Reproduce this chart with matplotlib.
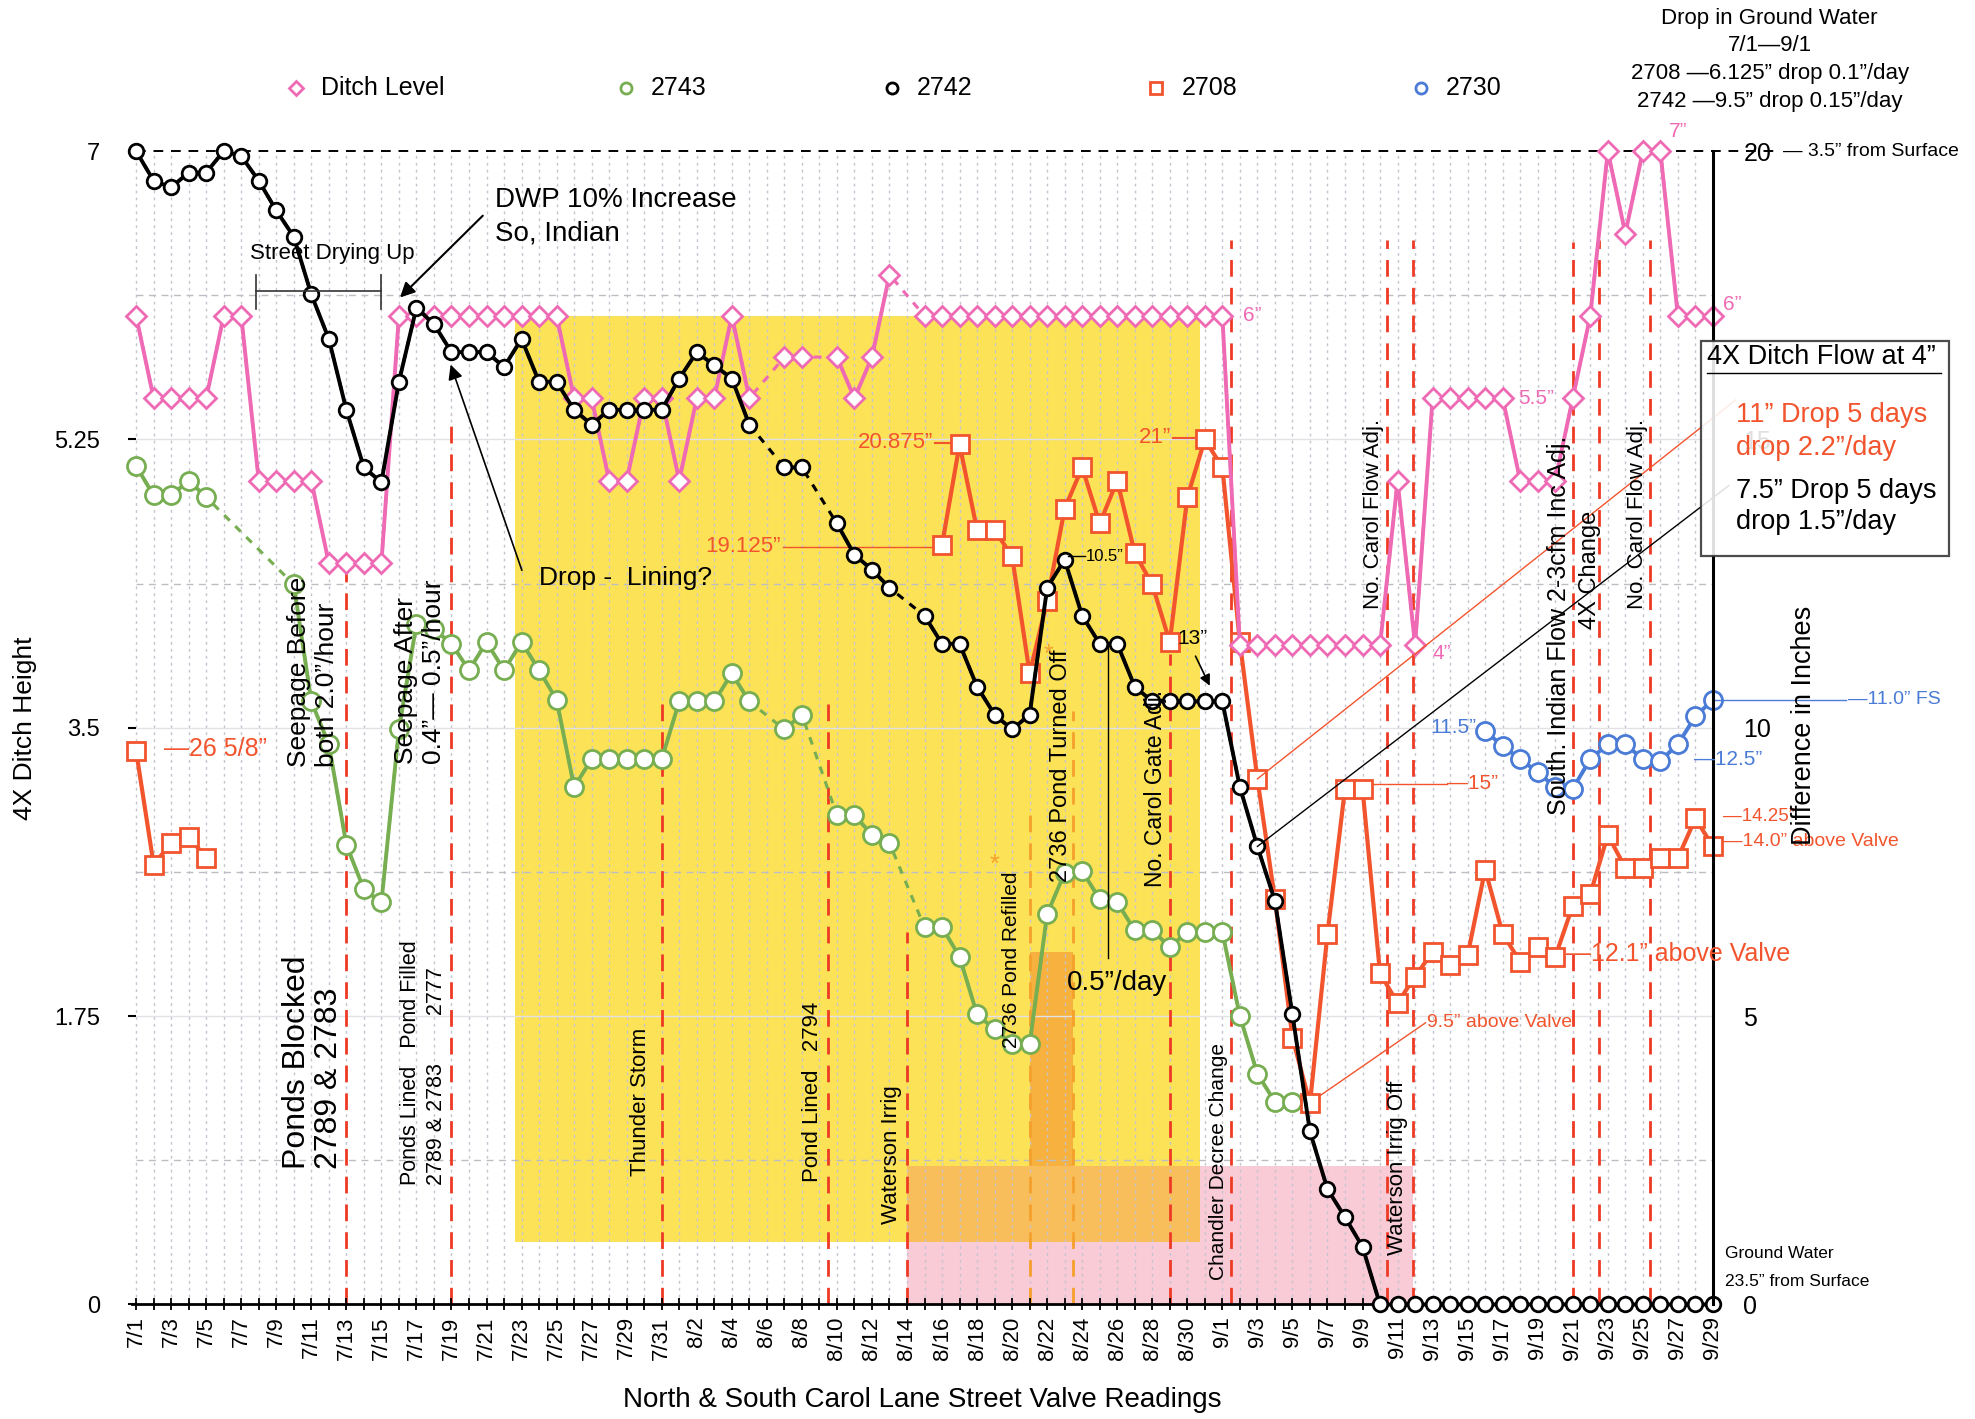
import numpy as np
import matplotlib
matplotlib.use('Agg')
import matplotlib.pyplot as plt
from matplotlib.lines import Line2D
from matplotlib.patches import Rectangle
from matplotlib import font_manager

plt.rcParams['font.family'] = ['Liberation Sans', 'DejaVu Sans']
names = {f.name for f in font_manager.fontManager.ttflist}
NARROW = 'Liberation Sans Narrow' if 'Liberation Sans Narrow' in names else 'Liberation Sans'

nan = np.nan
dates = [f'7/{i}' for i in range(1, 32)] + [f'8/{i}' for i in range(1, 32)] + [f'9/{i}' for i in range(1, 30)]

ditch_level = ([6.0, 5.5, 5.5, 5.5, 5.5, 6.0, 6.0, 5.0, 5.0, 5.0, 5.0, 4.5, 4.5, 4.5, 4.5]
               + [6.0] * 10 + [5.5, 5.5, 5.0, 5.0, 5.5, 5.5]
               + [5.0, 5.5, 5.5, 6.0, 5.5, nan, 5.75, 5.75, nan, 5.75, 5.5, 5.75, 6.25, nan]
               + [6.0] * 18 + [4.0] * 9 + [5.0, 4.0] + [5.5] * 5 + [5.0] * 3
               + [5.5, 6.0, 7.0, 6.5, 7.0, 7.0, 6.0, 6.0, 6.0])

s2742 = ([7.0, 6.82, 6.78, 6.87, 6.87, 7.0, 6.97, 6.82, 6.64, 6.48,
          6.13, 5.86, 5.43, 5.08, 4.99, 5.60, 6.05, 5.95, 5.78, 5.78,
          5.78, 5.69, 5.86, 5.60, 5.60, 5.43, 5.34, 5.43, 5.43, 5.43, 5.43,
          5.62, 5.78, 5.70, 5.62, 5.34, nan, 5.08, 5.08, nan, 4.74, 4.55, 4.46, 4.35, nan,
          4.18, 4.01, 4.01, 3.75, 3.58, 3.49, 3.58, 4.35, 4.52, 4.18, 4.01, 4.01, 3.75,
          3.66, 3.66, 3.66, 3.66, 3.66,
          3.14, 2.78, 2.45, 1.76, 1.05, 0.70, 0.53, 0.35] + [0.0] * 20)

s2743 = ([5.09, 4.91, 4.91, 5.0, 4.90, nan, nan, nan, nan,
          4.37, 3.66, 3.40, 2.79, 2.52, 2.44,
          3.49, 4.13, 4.10, 4.01, 3.85, 4.02, 3.85, 4.02, 3.85, 3.67,
          3.14, 3.31, 3.31, 3.31, 3.31, 3.31,
          3.66, 3.66, 3.66, 3.83, 3.66, nan, 3.49, 3.58, nan, 2.97, 2.97, 2.85, 2.80, nan,
          2.29, 2.29, 2.11, 1.76, 1.67, 1.58, 1.58, 2.37, 2.62, 2.63, 2.46, 2.44, 2.27,
          2.27, 2.17, 2.26, 2.26, 2.26,
          1.75, 1.40, 1.23, 1.23] + [nan] * 24)

s2708 = ([3.36, 2.67, 2.80, 2.84, 2.71] + [nan] * 41
         + [4.61, 5.22, 4.70, 4.70, 4.54, 3.83, 4.27, 4.83, 5.08, 4.74, 5.00, 4.56, 4.37,
            4.02, 4.90, 5.25, 5.08,
            4.02, 3.19, 2.46, 1.62, 1.22, 2.25, 3.13, 3.13, 2.01, 1.83, 1.99, 2.14, 2.06,
            2.12, 2.64, 2.25, 2.08, 2.17, 2.11, 2.42, 2.49, 2.85, 2.65, 2.65, 2.71, 2.71,
            2.95, 2.78])

s2730 = [nan] * 77 + [3.48, 3.39, 3.31, 3.23, 3.14, 3.13, 3.31, 3.40, 3.40, 3.31, 3.30, 3.40, 3.57, 3.67]

left_ticks = [0, 1.75, 3.5, 5.25, 7]
left_tick_labels = ['0', '1.75', '3.5', '5.25', '7']
right_ticks = [0, 5, 10, 15, 20]

PINK = '#EF6AB4'
GREEN = '#78AE52'
BLACK = '#000000'
RED = '#F2542D'
BLUE = '#4A7BD6'
EVRED = '#EE3A24'
EVORANGE = '#F5A02C'

fig = plt.figure(figsize=(19.75, 14.19), dpi=100)
ax = fig.add_axes([0.0667, 0.0807, 0.8006, 0.8128])
ax.set_xlim(-0.25, 90)
ax.set_ylim(0, 7)
for s in ['left', 'top', 'right']:
    ax.spines[s].set_visible(False)
ax.spines['bottom'].set_linewidth(2)

# shading
ax.add_patch(Rectangle((21.6, 0.38), 60.7 - 21.6, 6.0 - 0.38, color='#FCE257', zorder=0.2, lw=0))
ax.add_patch(Rectangle((44, 0), 72.9 - 44, 0.84, color='#F9CBD7', zorder=0.3, lw=0))
ax.add_patch(Rectangle((44, 0.38), 60.7 - 44, 0.84 - 0.38, color='#F8BE5C', zorder=0.35, lw=0))
ax.add_patch(Rectangle((51, 0.84), 53.45 - 51, 2.14 - 0.84, color='#F6B13F', zorder=0.35, lw=0))

# grid
ax.vlines(np.arange(0, 91), 0, 7, colors='#C4C4D0', linestyles=(0, (2, 3)), lw=1, zorder=0.6)
ax.hlines([0.875, 2.625, 4.375, 6.125], 0, 90, colors='#BDBDC4', linestyles=(0, (5, 4)), lw=1, zorder=0.6)
ax.hlines([1.75, 3.5, 5.25], 0, 90, colors='#E2E2E6', lw=1, zorder=0.6)
ax.plot([0, 93.6], [7, 7], color='k', ls=(0, (5, 4)), lw=1.4, zorder=1, clip_on=False)
# right axis line
ax.plot([90, 90], [0, 7], color='k', lw=2.2, zorder=7.5, clip_on=False)

# event lines
events = [(12, 4.5, EVRED), (18, 5.4, EVRED), (30, 3.70, EVRED), (39.5, 3.70, EVRED),
          (44, 2.26, EVRED), (51, 2.97, EVORANGE), (53.5, 3.6, EVORANGE), (59, 3.95, EVRED),
          (62.5, 6.46, EVRED), (71.4, 6.46, EVRED), (72.9, 6.46, EVRED), (82, 6.45, EVRED),
          (83.5, 6.46, EVRED), (86.4, 6.46, EVRED)]
for xe, top, c in events:
    ax.plot([xe, xe], [0, top], color=c, ls=(0, (6, 4)), lw=2, zorder=1.2)

x = np.arange(91)


def draw(vals, color, marker, ms, lw, z, connect=True, mew=2):
    y = np.array(vals, float)
    ok = ~np.isnan(y)
    if connect:
        ax.plot(x[ok], y[ok], color=color, lw=lw * 0.8, ls=(0, (2.5, 2.5)), zorder=z, clip_on=False)
    ax.plot(x, y, color=color, lw=lw, zorder=z + 0.1, clip_on=False)
    ax.plot(x[ok], y[ok], ls='none', marker=marker, ms=ms, mfc='white', mec=color, mew=mew,
            zorder=z + 0.2, clip_on=False)


draw(s2743, GREEN, 'o', 13, 2.8, 3)
draw(s2708, RED, 's', 13.5, 3.0, 4, connect=False)
draw(ditch_level, PINK, 'D', 10, 2.8, 5)
draw(s2742, BLACK, 'o', 10.5, 2.8, 6)
draw(s2730, BLUE, 'o', 13, 2.8, 6.5)

# ticks
ax.set_xticks(np.arange(0, 91, 2))
ax.set_xticklabels(dates[::2], rotation=90, fontsize=16)
ax.set_xticks(np.arange(0, 91), minor=True)
ax.tick_params(axis='x', which='both', direction='inout', length=9, width=1.3, pad=4)
ax.set_yticks(left_ticks)
ax.set_yticklabels(left_tick_labels, fontsize=17)
ax.tick_params(axis='y', direction='inout', length=6, width=1.5, pad=20)

ax2 = ax.twinx()
ax2.set_ylim(0, 20)
ax2.set_yticks(right_ticks)
ax2.set_yticklabels([str(t) for t in right_ticks], fontsize=18)
ax2.tick_params(axis='y', length=0, pad=22)
for s in ['left', 'top', 'bottom', 'right']:
    ax2.spines[s].set_visible(False)

fig.text(0.0128, 0.487, '4X Ditch Height', rotation=90, ha='center', va='center', fontsize=19)
fig.text(0.467, 0.0133, 'North & South Carol Lane Street Valve Readings', ha='center', va='center', fontsize=20)
fig.text(0.9135, 0.489, 'Difference in Inches', rotation=90, ha='center', va='center', fontsize=19.5)

# legend
legend_items = [(235, 'D', PINK, 'Ditch Level', 7), (497, 'o', GREEN, '2743', 8), (708, 'o', BLACK, '2742', 8),
                (918, 's', RED, '2708', 8), (1128, 'o', BLUE, '2730', 8)]
ly = 1 - 70 / 1127
for xs, m, c, t, ms in legend_items:
    fig.add_artist(Line2D([xs / 1568], [ly], marker=m, ms=ms, mfc='white', mec=c, mew=2, ls='none',
                          transform=fig.transFigure))
    fig.text((xs + 20) / 1568, ly, t, va='center', ha='left', fontsize=18)

fig.text(1405 / 1568, 1 - 6 / 1127,
         'Drop in Ground Water\n7/1\u20149/1\n2708 \u20146.125\u201d drop 0.1\u201d/day\n2742 \u20149.5\u201d drop 0.15\u201d/day',
         ha='center', va='top', fontsize=16, family=NARROW, linespacing=1.42)

# annotations
T = dict(zorder=9)
ax.text(11.2, 6.38, 'Street Drying Up', ha='center', va='center', fontsize=16, **T)
ax.plot([6.83, 13.95], [6.15, 6.15], color='#333', lw=1.2, zorder=9)
ax.plot([6.83, 6.83], [6.04, 6.25], color='#333', lw=1.2, zorder=9)
ax.plot([13.95, 13.95], [6.04, 6.25], color='#333', lw=1.2, zorder=9)
ax.text(20.5, 6.78, 'DWP 10% Increase\nSo, Indian', ha='left', va='top', fontsize=20, linespacing=1.35, **T)
ax.annotate('', xy=(14.95, 6.10), xytext=(19.9, 6.62),
            arrowprops=dict(arrowstyle='-|>', color='k', lw=1.5, mutation_scale=22), zorder=9)
ax.text(23.0, 4.41, 'Drop -  Lining?', ha='left', va='center', fontsize=19, **T)
ax.annotate('', xy=(17.9, 5.72), xytext=(22.07, 4.44),
            arrowprops=dict(arrowstyle='-|>', color='k', lw=1.2, mutation_scale=22), zorder=9)

V = dict(rotation=90, ha='center', va='center', multialignment='left', zorder=9)
ax.text(10.1, 3.84, 'Seepage Before\nboth 2.0\u201d/hour', fontsize=19, linespacing=1.25, **V)
ax.text(16.2, 3.84, 'Seepage After\n0.4\u201d\u2014 0.5\u201d/hour', fontsize=19, linespacing=1.25, **V)
ax.text(10.1, 1.47, 'Ponds Blocked\n2789 & 2783', fontsize=23, linespacing=1.1, **V)
ax.text(16.4, 1.47, 'Ponds Lined   Pond Filled\n2789 & 2783        2777', fontsize=15.5, linespacing=1.35, **V)
ax.text(28.8, 1.23, 'Thunder Storm', fontsize=16, **V)
ax.text(38.6, 1.29, 'Pond Lined   2794', fontsize=16, **V)
ax.text(43.1, 0.91, 'Waterson Irrig', fontsize=16, **V)
ax.text(49.96, 2.09, '2736 Pond Refilled', fontsize=15, **V)
ax.text(52.8, 3.27, '2736 Pond Turned Off', fontsize=17, **V)
ax.text(58.2, 3.13, 'No. Carol Gate Adj.', fontsize=16.5, **V)
ax.text(61.8, 0.87, 'Chandler Decree Change', fontsize=15, **V)
ax.text(72.0, 0.83, 'Waterson Irrig Off', fontsize=16, **V)
ax.text(70.6, 4.80, 'No. Carol Flow Adj.', fontsize=16, **V)
ax.text(81.2, 4.12, 'South. Indian Flow 2-3cfm Inc Adj.', fontsize=18, **V)
ax.text(83.0, 4.46, '4X Change', fontsize=17, **V)
ax.text(85.7, 4.80, 'No. Carol Flow Adj.', fontsize=16, **V)

ax.text(49.0, 2.67, '*', color=EVORANGE, fontsize=18, ha='center', va='center', zorder=9)
ax.text(52.1, 3.94, '*', color=EVORANGE, fontsize=18, ha='center', va='center', zorder=9)

# red labels
ax.text(1.58, 3.37, '\u201426 5/8\u201d', color=RED, fontsize=18, ha='left', va='center', **T)
ax.text(36.8, 4.60, '19.125\u201d', color=RED, fontsize=16, ha='right', va='center', **T)
ax.plot([36.9, 45.6], [4.60, 4.60], color=RED, lw=1, zorder=2)
ax.text(45.5, 5.23, '20.875\u201d', color=RED, fontsize=16, ha='right', va='center', **T)
ax.plot([45.6, 46.5], [5.23, 5.23], color=RED, lw=1.5, zorder=2)
ax.text(59.1, 5.26, '21\u201d', color=RED, fontsize=16, ha='right', va='center', **T)
ax.plot([59.2, 60.4], [5.26, 5.26], color=RED, lw=1.5, zorder=2)
ax.text(74.8, 3.16, '\u201415\u201d', color=RED, fontsize=15, ha='left', va='center', **T)
ax.plot([70.4, 74.8], [3.16, 3.16], color=RED, lw=1, zorder=2)
ax.text(81.6, 2.13, '\u201412.1\u201d above Valve', color=RED, fontsize=18, ha='left', va='center', **T)
ax.text(73.7, 1.71, '9.5\u201d above Valve', color=RED, fontsize=14, ha='left', va='center', **T)
ax.plot([67.2, 73.6], [1.24, 1.71], color=RED, lw=1, zorder=2)
ax.text(90.6, 2.96, '\u201414.25\u201d', color=RED, fontsize=13.5, ha='left', va='center', **T)
ax.text(90.6, 2.81, '\u201414.0\u201d above Valve', color=RED, fontsize=14, ha='left', va='center', **T)

# black labels
ax.text(59.45, 4.04, '13\u201d', color='k', fontsize=15, ha='left', va='center', **T)
ax.annotate('', xy=(61.35, 3.74), xytext=(60.4, 3.95),
            arrowprops=dict(arrowstyle='-|>', color='k', lw=1.2, mutation_scale=16), zorder=9)
ax.text(54.2, 4.54, '10.5\u201d', color='k', fontsize=12, ha='left', va='center', **T)
ax.plot([53.2, 54.15], [4.54, 4.54], color='k', lw=1, zorder=7)
ax.text(53.1, 1.95, '0.5\u201d/day', color='k', fontsize=20, ha='left', va='center', **T)
ax.plot([55.5, 55.5], [2.1, 4.01], color='k', lw=1, zorder=7)

# pink labels
for xd, yv, t in [(63.2, 6.0, '6\u201d'), (74.0, 3.95, '4\u201d'), (78.9, 5.5, '5.5\u201d'),
                  (87.5, 7.12, '7\u201d'), (90.6, 6.07, '6\u201d')]:
    ax.text(xd, yv, t, color=PINK, fontsize=15, ha='left', va='center', **T)

# blue labels
ax.text(76.5, 3.50, '11.5\u201d', color=BLUE, fontsize=15, ha='right', va='center', **T)
ax.text(88.9, 3.31, '\u201412.5\u201d', color=BLUE, fontsize=15, ha='left', va='center', **T)
ax.plot([90, 97.6], [3.67, 3.67], color=BLUE, lw=1, zorder=7, clip_on=False)
ax.text(97.7, 3.67, '\u201411.0\u201d FS', color=BLUE, fontsize=14, ha='left', va='center', **T)

# right side texts
ax.text(94.0, 7.0, '\u2014 3.5\u201d from Surface', fontsize=14, ha='left', va='center', **T)
ax.text(90.7, 0.31, 'Ground Water', fontsize=12.5, ha='left', va='center', **T)
ax.text(90.7, 0.14, '23.5\u201d from Surface', fontsize=12.5, ha='left', va='center', **T)
ax.annotate('', xy=(90.3, 0.02), xytext=(92.2, 0.13),
            arrowprops=dict(arrowstyle='-|>', color='k', lw=1.2, mutation_scale=16), zorder=9)

# connector lines to box
ax.plot([64, 91.3], [3.19, 5.49], color=RED, lw=1, zorder=7, clip_on=False)
ax.plot([64, 90.9], [2.78, 4.97], color='k', lw=1, zorder=7, clip_on=False)

# box (on ax2 so it sits over the right tick labels, which show faintly through)
tr = ax.transData
ax2.add_patch(Rectangle((89.3, 4.54), 103.5 - 89.3, 5.85 - 4.54, transform=tr, facecolor='white',
                        alpha=0.88, edgecolor='#333', lw=1.6, clip_on=False, zorder=8))
ax2.text(89.65, 5.75, '4X Ditch Flow at 4\u201d', transform=tr, fontsize=19.5, ha='left', va='center', zorder=9)
ax2.plot([89.65, 103.0], [5.655, 5.655], transform=tr, color='k', lw=1, clip_on=False, zorder=9)
ax2.text(91.3, 5.40, '11\u201d Drop 5 days', transform=tr, color=RED, fontsize=19.5, ha='left', va='center', zorder=9)
ax2.text(91.3, 5.20, 'drop 2.2\u201d/day', transform=tr, color=RED, fontsize=19.5, ha='left', va='center', zorder=9)
ax2.text(91.3, 4.94, '7.5\u201d Drop 5 days', transform=tr, color='k', fontsize=19.5, ha='left', va='center', zorder=9)
ax2.text(91.3, 4.75, 'drop 1.5\u201d/day', transform=tr, color='k', fontsize=19.5, ha='left', va='center', zorder=9)

fig.savefig('out.png', dpi=100)
